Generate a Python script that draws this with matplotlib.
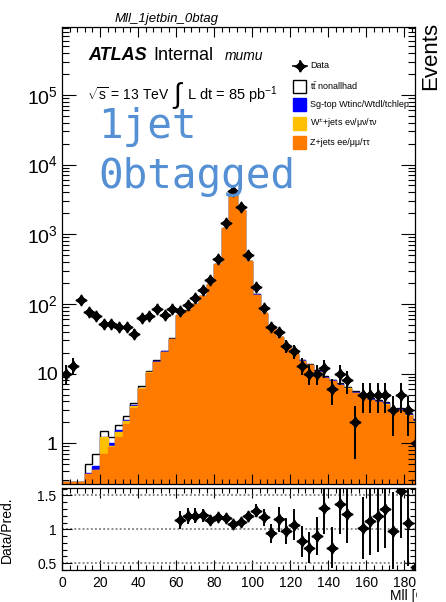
import numpy as np
import matplotlib
matplotlib.use("Agg")
import matplotlib.pyplot as plt
from matplotlib.patches import Rectangle
from matplotlib.lines import Line2D
from matplotlib.ticker import FixedLocator, MultipleLocator, LogLocator, NullFormatter

plt.rcParams['font.family'] = ['Liberation Sans', 'DejaVu Sans']
plt.rcParams['mathtext.fontset'] = 'custom'
plt.rcParams['mathtext.rm'] = 'Liberation Sans'
plt.rcParams['mathtext.it'] = 'Liberation Sans:italic'
plt.rcParams['mathtext.bf'] = 'Liberation Sans:bold'
plt.rcParams['mathtext.default'] = 'regular'

# 4 GeV bins in m_ll
edges = np.arange(0, 192, 4)
centers = edges[:-1] + 2

data = [10, 13, 114, 77, 67, 51, 51, 46, 47, 37, 62, 67, 84, 70, 84, 80,
        97, 120, 157, 220, 435, 1450, 4110, 2455, 497, 175, 87, 46, 39, 25,
        21, 13, 10, 10, 12, 6, 10, 8, 2, 5, 5, 5, 5, 3, 5, 3, 1]

zjets = [0.28, 0.28, 0.28, 0.36, 0.42, 0.71, 0.88, 1.23, 1.91, 3.2, 5.95,
         10.3, 14.6, 20.4, 31.2, 69.0, 79.7, 98.7, 128.7, 191.7, 367.7,
         1234.7, 3825.7, 2203, 413, 136, 72.9, 48.0, 33.1, 24.7, 18.8, 15.2,
         13.2, 10.6, 8.6, 7.75, 6.85, 6.05, 5.32, 4.6, 4.15, 3.92, 3.6, 2.83,
         2.96, 2.5, 2.03]
wjets = [0, 0, 0, 0, 0, 0.52, 0.04, 0.21, 0.17, 0.18, 0.2, 0.2, 0.3, 0.3,
         0.4, 0.4, 0.4, 0.4, 0.4, 0.4, 0.4, 0.4, 0.4, 0.3, 0.3, 0.3, 0.3,
         0.3, 0.3, 0.3, 0.3, 0.1, 0.1, 0.1, 0.1, 0.1, 0.1, 0.1, 0.03, 0.03,
         0.03, 0.03, 0.03, 0.03, 0.03, 0.03, 0.03]
singletop = [0, 0, 0, 0.01, 0.05, 0.02, 0.08, 0.09, 0.10, 0.19, 0.15, 0.15,
             0.2, 0.2, 0.25, 0.3, 0.3, 0.3, 0.3, 0.3, 0.3, 0.3, 0.3, 0.25,
             0.25, 0.25, 0.25, 0.2, 0.2, 0.2, 0.2, 0.15, 0.15, 0.15, 0.15,
             0.15, 0.15, 0.15, 0.1, 0.1, 0.1, 0.1, 0.1, 0.1, 0.1, 0.1, 0.1]
ttbar = [0, 0, 0, 0.14, 0.23, 0.27, 0.23, 0.28, 0.27, 0.2, 0.3, 0.35, 0.4,
         0.4, 0.5, 0.6, 0.6, 0.6, 0.6, 0.6, 0.6, 0.6, 0.6, 0.5, 0.5, 0.5,
         0.5, 0.45, 0.4, 0.4, 0.35, 0.3, 0.3, 0.25, 0.25, 0.2, 0.2, 0.2,
         0.15, 0.15, 0.15, 0.12, 0.12, 0.1, 0.1, 0.1, 0.08]

Z_COL = '#ff7b00'
W_COL = '#ffc000'
ST_COL = '#0000ff'
TAG_COL = '#5590d5'

W, H = 446, 602


def fx(x):
    return x / W


def fy(y):
    return 1 - y / H


fig = plt.figure(figsize=(W / 100, H / 100), dpi=100)
ax = fig.add_axes([fx(62), fy(483.5), fx(415) - fx(62), fy(27) - fy(483.5)])
rax = fig.add_axes([fx(62), fy(570), fx(415) - fx(62), fy(488) - fy(570)])

z = np.array(zjets)
w = np.array(wjets)
st = np.array(singletop)
tt = np.array(ttbar)
d = np.array(data, dtype=float)
total = z + w + st + tt

# stack drawn from the top layer down so each fill covers the one above
for vals, fc, ec in [(total, 'white', 'black'), (z + w + st, ST_COL, ST_COL),
                     (z + w, W_COL, W_COL), (z, Z_COL, Z_COL)]:
    ax.stairs(vals, edges, baseline=1e-3, fill=True, facecolor=fc,
              edgecolor=ec, lw=1.0)


def draw_points(a, x, y, yerr):
    a.errorbar(x, y, yerr=yerr, fmt='none', ecolor='black', elinewidth=1.4,
               zorder=4)
    a.plot(x, y, 'o', ms=4.4, color='black', zorder=5)
    a.plot(x, y, marker=(4, 1, 0), ms=8, ls='none', color='black', zorder=5)


draw_points(ax, centers, d, np.sqrt(d))

ax.set_yscale('log')
ax.set_xlim(0, 185.6)
ax.set_ylim(0.265, 9.4e5)
ax.yaxis.set_major_locator(FixedLocator([1, 10, 1e2, 1e3, 1e4, 1e5]))
ax.set_yticklabels(['1', '10', '$10^{2}$', '$10^{3}$', '$10^{4}$', '$10^{5}$'])
ax.yaxis.set_minor_locator(LogLocator(base=10, subs=np.arange(2, 10), numticks=20))
ax.yaxis.set_minor_formatter(NullFormatter())
ax.xaxis.set_major_locator(MultipleLocator(20))
ax.xaxis.set_minor_locator(MultipleLocator(4))
ax.tick_params(axis='x', which='both', direction='in', top=True, labelbottom=False)
ax.tick_params(axis='x', which='major', length=7, width=0.8)
ax.tick_params(axis='x', which='minor', length=3.6, width=0.8)
ax.tick_params(axis='y', which='both', direction='in', right=True, labelsize=14, pad=3)
ax.tick_params(axis='y', which='major', length=10, width=0.8)
ax.tick_params(axis='y', which='minor', length=5, width=0.8)
for sp in ax.spines.values():
    sp.set_linewidth(0.9)

# ratio panel
ratio = d / total
rerr = np.sqrt(d) / total
shown = (ratio >= 0.4) & (ratio <= 1.61)
rax.yaxis.grid(True, which='major', color='#666666', lw=1.1,
               linestyle=(0, (1.2, 1.5)))
rax.set_axisbelow(True)
draw_points(rax, centers[shown], ratio[shown], rerr[shown])
rax.set_xlim(0, 185.6)
rax.set_ylim(0.4, 1.61)
rax.yaxis.set_major_locator(FixedLocator([0.5, 1.0, 1.5]))
rax.set_yticklabels(['0.5', '1', '1.5'])
rax.yaxis.set_minor_locator(MultipleLocator(0.1))
rax.xaxis.set_major_locator(MultipleLocator(20))
rax.xaxis.set_minor_locator(MultipleLocator(4))
rax.tick_params(which='both', direction='in', top=True, right=True,
                labelsize=10, width=0.8)
rax.tick_params(axis='x', which='major', length=7, pad=4)
rax.tick_params(axis='x', which='minor', length=3.6)
rax.tick_params(axis='y', which='major', length=7, pad=4)
rax.tick_params(axis='y', which='minor', length=3.5)
for sp in rax.spines.values():
    sp.set_linewidth(0.9)

# labels and annotations
fig.text(fx(167), fy(22), 'Mll_1jetbin_0btag', ha='center', va='baseline',
         style='italic', fontsize=9.5)
fig.text(fx(88), fy(60), 'ATLAS', weight='bold', style='italic', fontsize=13,
         va='baseline')
fig.text(fx(153), fy(60), 'Internal', fontsize=13, va='baseline')
fig.text(fx(225), fy(60), 'mumu', style='italic', fontsize=10, va='baseline')
fig.text(fx(87), fy(100), r'$\sqrt{s}$ = 13 TeV', fontsize=10, va='baseline')
fig.text(fx(173), fy(96), '\u222b', fontsize=20, va='center')
fig.text(fx(187), fy(100), 'L dt = 85 pb$^{-1}$', fontsize=10.5, va='baseline')

fig.text(fx(98), fy(138), '1jet', family='DejaVu Sans Mono', fontsize=29.5,
         color=TAG_COL, va='baseline')
fig.text(fx(98), fy(188), '0btagged', family='DejaVu Sans Mono', fontsize=29.5,
         color=TAG_COL, va='baseline')

# legend
fig.add_artist(Line2D([fx(293), fx(307)], [fy(66), fy(66)], color='black', lw=1.2))
fig.add_artist(Line2D([fx(300), fx(300)], [fy(61), fy(71)], color='black', lw=1.2))
fig.add_artist(Line2D([fx(300)], [fy(66)], marker='o', ms=4.4, color='black'))
fig.add_artist(Line2D([fx(300)], [fy(66)], marker=(4, 1, 0), ms=8, color='black'))
fig.text(fx(310), fy(66), 'Data', fontsize=6.5, va='center')

legend_rows = [
    (86, 'white', 'black', 't$\\bar{t}$ nonallhad'),
    (104.5, ST_COL, ST_COL, 'Sg-top Wtinc/Wtdl/tchlep'),
    (123.5, W_COL, W_COL, 'W$^{\\pm}$+jets e\u03bd/\u03bc\u03bd/\u03c4\u03bd'),
    (143, Z_COL, Z_COL, 'Z+jets ee/\u03bc\u03bc/\u03c4\u03c4'),
]
for yc, fc, ec, label in legend_rows:
    fig.add_artist(Rectangle((fx(293), fy(yc + 6.5)), fx(13), 13 / H,
                             transform=fig.transFigure, facecolor=fc,
                             edgecolor=ec, lw=1.0))
    fig.text(fx(310), fy(yc), label, fontsize=6.5, va='center')

fig.text(fx(420), fy(90), 'Events', rotation=90, ha='left', va='bottom',
         fontsize=16)
fig.text(fx(7), fy(530), 'Data/Pred.', rotation=90, ha='center', va='center',
         fontsize=10)
xl = fig.text(fx(390), fy(600), 'Mll [GeV]', fontsize=10, ha='left',
              va='baseline')
xl.set_clip_path(Rectangle((0, 0), fx(417), 1, transform=fig.transFigure))

fig.savefig('out.png', dpi=100)
